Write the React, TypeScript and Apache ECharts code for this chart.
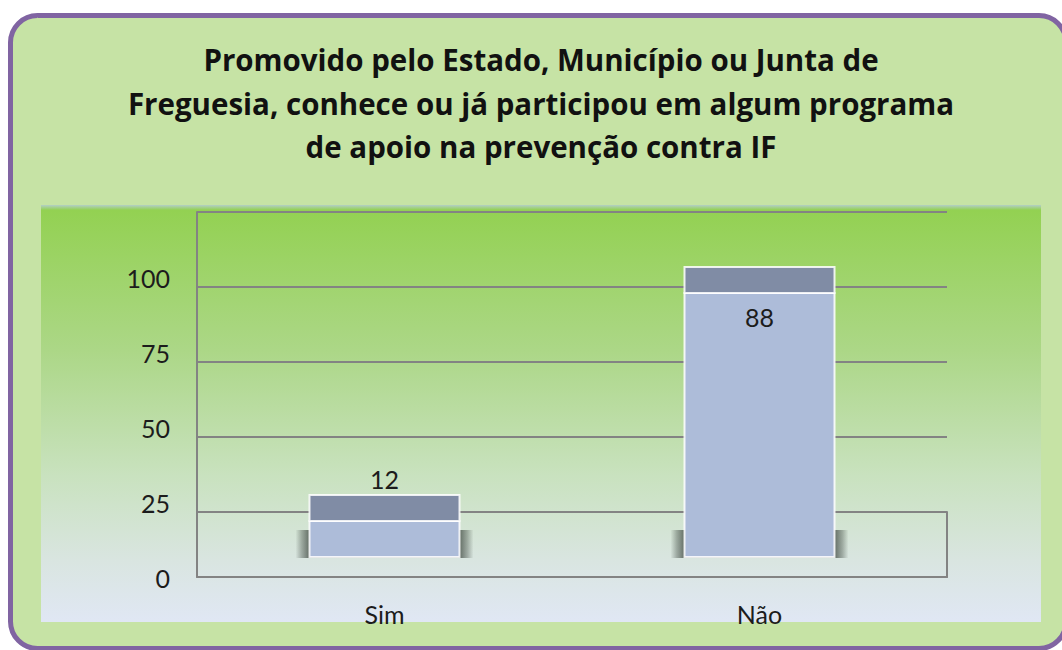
import React, { useEffect, useRef } from "react";
import * as echarts from "echarts";

const titleLines = [
  "Promovido pelo Estado, Município ou Junta de",
  "Freguesia, conhece ou já participou em algum programa",
  "de apoio na prevenção contra IF",
];
const categories = ["Sim", "Não"];
const values = [12, 88];
const yMin = 0;
const yMax = 125;
const yStep = 25;
const yLabelMax = 100;

const FONT = "Lato, 'Open Sans', sans-serif";
const TITLE_FONT = "'Open Sans', 'Noto Sans', sans-serif";
const TEXT = "#1c1c1c";
const GRID_LINE = { color: "#838383", width: 2 };

export default function App() {
  const ref = useRef<HTMLDivElement>(null);

  useEffect(() => {
    if (!ref.current) return;
    const chart = echarts.init(ref.current, undefined, { renderer: "svg" });

    const seriesData = categories.map((c, i) => [i, values[i]]);

    const renderBar = (params: any, api: any) => {
      const idx = api.value(0);
      const v = api.value(1);
      const top = api.coord([idx, v]);
      const base = api.coord([idx, 0]);
      const band = api.size([1, 0])[0];
      const w = band * 0.4;
      const cx = top[0];
      const x0 = cx - w / 2;
      const depth = 26;
      const sh = 14;
      const inside = v > 50;
      const labelY = inside ? top[1] + 23.5 : top[1] - depth - 16.5;
      const tw = w + sh * 2;
      return {
        type: "group",
        children: [
          {
            type: "rect",
            shape: { x: x0 - sh, y: base[1] - 27, width: tw, height: 28 },
            style: {
              fill: new echarts.graphic.LinearGradient(0, 0, 1, 0, [
                { offset: 0, color: "rgba(70,80,72,0)" },
                { offset: 0.035, color: "rgba(70,80,72,0.4)" },
                { offset: sh / tw, color: "rgba(70,80,72,0.8)" },
                { offset: 1 - sh / tw, color: "rgba(70,80,72,0.8)" },
                { offset: 0.965, color: "rgba(70,80,72,0.4)" },
                { offset: 1, color: "rgba(70,80,72,0)" },
              ]),
            },
          },
          {
            type: "rect",
            shape: { x: x0, y: top[1], width: w, height: base[1] - top[1] },
            style: { fill: "#adbcd9", stroke: "rgba(255,255,255,0.85)", lineWidth: 2 },
          },
          {
            type: "rect",
            shape: { x: x0, y: top[1] - depth, width: w, height: depth },
            style: { fill: "#808ca5", stroke: "rgba(255,255,255,0.85)", lineWidth: 2 },
          },
          {
            type: "text",
            style: {
              text: String(v),
              x: cx,
              y: labelY,
              align: "center",
              verticalAlign: "middle",
              fontFamily: FONT,
              fontSize: 25,
              fill: TEXT,
            },
          },
        ],
      };
    };

    const option: any = {
      animation: false,
      title: {
        text: titleLines.join("\n"),
        left: 541,
        top: 38,
        textAlign: "center",
        padding: 0,
        textStyle: {
          fontFamily: TITLE_FONT,
          fontWeight: "bold",
          fontSize: 29.5,
          lineHeight: 43.5,
          color: "#111111",
        },
      },
      graphic: [
        {
          type: "rect",
          z: -20,
          shape: { x: 10.5, y: 15.5, width: 1055.5, height: 633, r: 27 },
          style: { fill: "#c6e3a5", stroke: "#8064a2", lineWidth: 5 },
        },
        {
          type: "rect",
          z: -19,
          shape: { x: 41, y: 205, width: 1000, height: 417 },
          style: {
            fill: new echarts.graphic.LinearGradient(0, 0, 0, 1, [
              { offset: 0, color: "#b3cfc6" },
              { offset: 0.012, color: "#93d152" },
              { offset: 0.35, color: "#acd787" },
              { offset: 0.65, color: "#c9e2bf" },
              { offset: 0.85, color: "#d9e5e0" },
              { offset: 1, color: "#e0e7f4" },
            ]),
          },
        },
      ],
      grid: [
        { left: 197, right: 115, top: 212, height: 375 },
        { left: 197, right: 115, top: 182, height: 375 },
        { left: 197, right: 115, top: 212, height: 365 },
        { left: 197, right: 115, top: 512, height: 65 },
        { left: 197, right: 115, top: 202.5, height: 375 },
      ],
      xAxis: [
        { gridIndex: 0, type: "category", data: categories, show: false },
        { gridIndex: 1, type: "category", data: categories, show: false },
        {
          gridIndex: 2,
          type: "category",
          data: categories,
          axisLine: { show: true, onZero: false, lineStyle: GRID_LINE },
          axisTick: { show: false },
          axisLabel: {
            margin: 37,
            verticalAlign: "middle",
            fontFamily: FONT,
            fontSize: 25,
            color: TEXT,
          },
        },
        { gridIndex: 3, type: "category", data: categories, show: false },
        { gridIndex: 4, type: "category", data: categories, show: false },
      ],
      yAxis: [
        {
          gridIndex: 0,
          type: "value",
          min: yMin,
          max: yMax,
          interval: yStep,
          axisLine: { show: false },
          axisTick: { show: false },
          axisLabel: { show: false },
          splitLine: { show: true, showMinLine: false, lineStyle: GRID_LINE },
        },
        { gridIndex: 1, type: "value", min: yMin, max: yMax, show: false },
        {
          gridIndex: 2,
          type: "value",
          min: yMin,
          max: yMax,
          axisLine: { show: true, onZero: false, lineStyle: GRID_LINE },
          axisTick: { show: false },
          axisLabel: { show: false },
          splitLine: { show: false },
        },
        {
          gridIndex: 3,
          type: "value",
          position: "right",
          min: 0,
          max: 1,
          axisLine: { show: true, onZero: false, lineStyle: GRID_LINE },
          axisTick: { show: false },
          axisLabel: { show: false },
          splitLine: { show: false },
        },
        {
          gridIndex: 4,
          type: "value",
          min: yMin,
          max: yMax,
          interval: yStep,
          axisLine: { show: false },
          axisTick: { show: false },
          splitLine: { show: false },
          axisLabel: {
            margin: 27,
            fontFamily: FONT,
            fontSize: 25,
            color: TEXT,
            formatter: (val: number) => (val > yLabelMax ? "" : String(val)),
          },
        },
      ],
      series: [
        {
          type: "custom",
          xAxisIndex: 1,
          yAxisIndex: 1,
          z: 10,
          clip: false,
          renderItem: renderBar,
          encode: { x: 0, y: 1 },
          data: seriesData,
        },
      ],
    };

    chart.setOption(option);
    return () => chart.dispose();
  }, []);

  return (
    <div
      ref={ref}
      style={{ position: "absolute", left: 0, top: 0, width: 1062, height: 650 }}
    />
  );
}
